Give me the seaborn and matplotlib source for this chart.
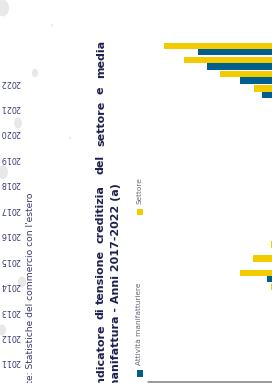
import matplotlib
matplotlib.use("Agg")
import matplotlib.pyplot as plt
from matplotlib.patches import Rectangle, Circle
from matplotlib.lines import Line2D
import seaborn as sns
import pandas as pd

# ---------------- data ----------------
gruppi = [f"G{i}" for i in range(1, 19)]
settore = [108, 88, 52, 18, 0, 0, 0, 0, 0, 0, 0, 0, 0, 0, 1.5, 19, 32, 1.5]
manifattura = [74, 65, 32, 10.5, 0, 0, 0, 0, 0, 0, 0, 0, 0, 0, 0, 0, 5, 0]
serie = ["Settore", "Attività manifatturiere"]
colori = ["#F2CC00", "#005F8C"]
anni = [2022, 2021, 2020, 2019, 2018, 2017, 2016, 2015, 2014, 2013, 2012, 2011]
titolo_1 = ["Indicatore", "di", "tensione", "creditizia", "del", "settore", "e", "media"]
titolo_2 = "manifattura - Anni 2017-2022 (a)"
fonte = "Fonte: Statistiche del commercio con l'estero"

df = pd.DataFrame({
    "gruppo": gruppi * 2,
    "valore": settore + manifattura,
    "serie": [serie[0]] * len(gruppi) + [serie[1]] * len(gruppi),
})

W, H = 272, 383
sns.set_theme(style="white")
plt.rcParams["font.family"] = ["DejaVu Sans"]

fig = plt.figure(figsize=(W / 100, H / 100), dpi=100)
fig.patch.set_facecolor("white")


def fx(x):
    return x / W


def fy(y):
    return 1 - y / H


# ---------------- bars ----------------
ax = fig.add_axes([fx(148), 0, fx(W) - fx(148), 1])
sns.barplot(data=df, x="valore", y="gruppo", hue="serie", order=gruppi,
            hue_order=serie, palette=colori, orient="h", width=0.9,
            errorbar=None, saturation=1, linewidth=0, legend=False, ax=ax)
ax.set_xlim(124, 0)
ax.set_ylim(23.55, -3.455)
ax.axis("off")

# axis line (bottom)
fig.add_artist(Line2D([fx(148), 1.0], [fy(382), fy(382)], color="#808080",
                      lw=1.1, transform=fig.transFigure))

# ---------------- legend ----------------
fig.add_artist(Rectangle((fx(137), fy(215)), fx(6), 6 / H, color=colori[0],
                         transform=fig.transFigure, lw=0))
fig.add_artist(Rectangle((fx(137), fy(376.5)), fx(6), 7 / H, color=colori[1],
                         transform=fig.transFigure, lw=0))
fig.text(fx(141), fy(204), serie[0], rotation=90, rotation_mode="anchor",
         ha="left", va="baseline", fontsize=5.3, color="#666677")
fig.text(fx(141), fy(365), serie[1], rotation=90, rotation_mode="anchor",
         ha="left", va="baseline", fontsize=5.3, color="#666677")

# ---------------- title ----------------
tcol = "#1f2050"
fs_t = 8.0
fig.text(fx(104), fy(325), titolo_1[0], rotation=90, rotation_mode="anchor",
         ha="right", va="baseline", fontsize=fs_t, fontweight="bold", color=tcol)
centri = [None, 313, 277.5, 214.5, 164, 123.5, 90, 58.5]
for parola, c in zip(titolo_1[1:], centri[1:]):
    fig.text(fx(104), fy(c), parola, rotation=90, rotation_mode="anchor",
             ha="center", va="baseline", fontsize=fs_t, fontweight="bold",
             color=tcol)
fig.text(fx(119.5), fy(183), titolo_2, rotation=90, rotation_mode="anchor",
         ha="right", va="baseline", fontsize=fs_t, fontweight="bold", color=tcol)

# ---------------- source note ----------------
fig.text(fx(33), fy(193), fonte, rotation=90, rotation_mode="anchor",
         ha="right", va="baseline", fontsize=6.6, color="#3a3a70")

# ---------------- year labels of the neighbouring chart ----------------
for k, a in enumerate(anni):
    fig.text(fx(20.5), fy(82 + k * 25.45), str(a), rotation=180,
             rotation_mode="anchor", ha="left", va="center", fontsize=5.8,
             color="#3a3a78")

# ---------------- scan specks ----------------
for (cx, cy, r) in [(3, 8, 6), (35, 73, 3), (18, 123, 4), (3, 172, 5),
                    (22, 282, 4), (2, 330, 4), (70, 138, 1), (52, 25, 1)]:
    fig.add_artist(Circle((fx(cx), fy(cy)), r / W, color="#e8e8e8",
                          transform=fig.transFigure, lw=0, zorder=0))

fig.savefig("out.png", dpi=100, facecolor="white")
